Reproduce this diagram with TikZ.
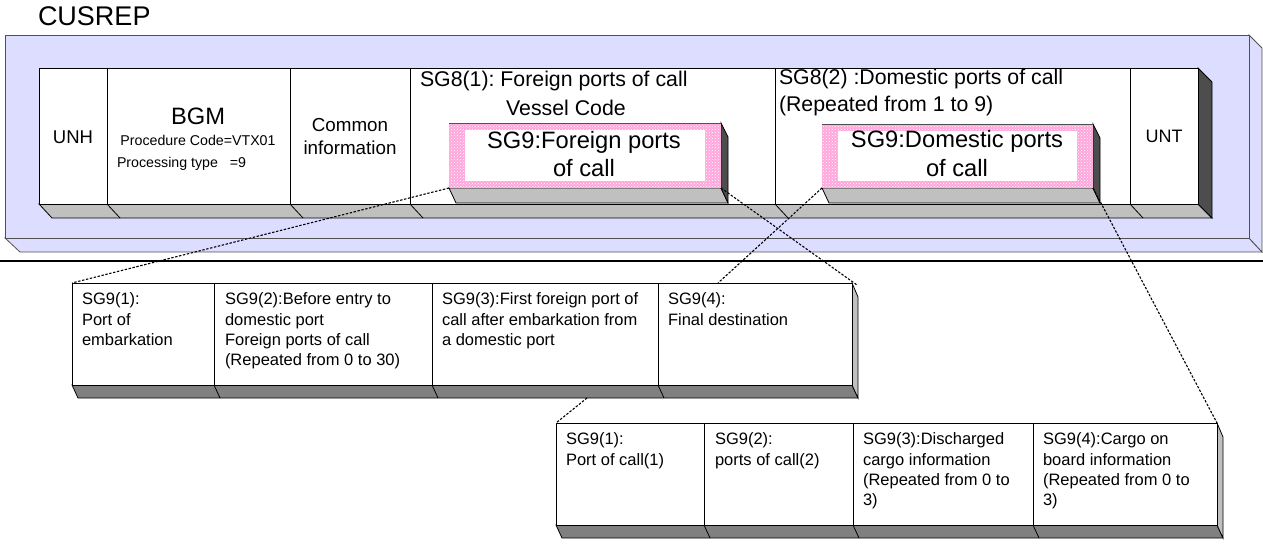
\documentclass[tikz,border=0pt]{standalone}
\usepackage{fontspec}
\setmainfont{Liberation Sans}
\usetikzlibrary{patterns}
\definecolor{lav}{HTML}{DDDDFF}
\definecolor{outl}{HTML}{505050}
\definecolor{lg}{HTML}{C0C0C0}
\definecolor{dg}{HTML}{4D4D4D}
\definecolor{mg}{HTML}{808080}
\definecolor{pinkc}{HTML}{FFA6DC}
\newcommand{\fsz}[2]{\fontsize{#1}{#2}\selectfont}
\frenchspacing
\begin{document}
\begin{tikzpicture}[x=1pt,y=-1pt,
  cell/.style={draw=black, fill=white, line width=0.8pt, inner sep=0pt, outer sep=0pt, anchor=north west},
  face/.style={draw=black, line width=0.8pt},
  lavface/.style={draw=outl, fill=lav, line width=0.8pt},
  pinkbox/.style={draw=none, inner sep=0pt, outer sep=0pt, anchor=north west,
    preaction={fill=pinkc}, pattern=crosshatch dots, pattern color=white},
  conn/.style={draw=black, line width=1.1pt, dash pattern=on 2.4pt off 1.6pt},
  lbl/.style={inner sep=0pt, outer sep=0pt},
  small/.style={lbl, font=\fsz{16.5}{20.3}, align=left, anchor=north west}
]
\useasboundingbox (0,0) rectangle (1263,545);

% title
\node[lbl, anchor=base west, font=\fsz{27}{32}] (title) at (38,26) {CUSREP};

% outer message box
\draw[lavface] (5,238) -- (20,252) -- (1262,252) -- (1249,238) -- cycle;
\draw[lavface] (1249,35) -- (1262,48) -- (1262,252) -- (1249,238) -- cycle;
\node[draw=outl, fill=lav, line width=0.8pt, inner sep=0pt, outer sep=0pt, anchor=north west,
      minimum width=1244pt, minimum height=203pt] (msg) at (5,35) {};

% top row faces
\draw[face, fill=lg] (39,204) -- (52,218) -- (1212,218) -- (1198,204) -- cycle;
\draw[face, fill=dg] (1198,68) -- (1212,82) -- (1212,218) -- (1198,204) -- cycle;
\foreach \x in {107,290,410,775,1130} \draw[face] (\x,204) -- ++(13,14);

% top row cells
\node[cell, minimum width=68pt,  minimum height=136pt] (unh)  at (39,68)   {};
\node[cell, minimum width=183pt, minimum height=136pt] (bgm)  at (107,68)  {};
\node[cell, minimum width=120pt, minimum height=136pt] (com)  at (290,68)  {};
\node[cell, minimum width=365pt, minimum height=136pt] (sga)  at (410,68)  {};
\node[cell, minimum width=355pt, minimum height=136pt] (sgb)  at (775,68)  {};
\node[cell, minimum width=68pt,  minimum height=136pt] (unt)  at (1130,68) {};

% top row texts
\node[lbl, anchor=base, font=\fsz{18.5}{22}] (tunh) at (73,144) {UNH};
\node[lbl, anchor=base, font=\fsz{23.7}{28}] (tbgm) at (198,125) {BGM};
\node[lbl, anchor=base, font=\fsz{14.2}{17}] (tproc) at (198,146) {Procedure Code=VTX01};
\node[lbl, anchor=base west, font=\fsz{14.2}{17}] (tptype) at (117,168) {Processing type~~~=9};
\node[lbl, anchor=center, align=center, font=\fsz{18.8}{23}] (tcom) at (350,136.5) {Common\\information};
\node[lbl, anchor=base west, font=\fsz{21.3}{26}] (tsga) at (420,87) {SG8(1): Foreign ports of call};
\node[lbl, anchor=base, font=\fsz{21.3}{26}] (tves) at (566,116) {Vessel Code};
\node[lbl, anchor=base west, font=\fsz{21.3}{26}] (tsgb) at (779,85) {SG8(2) :Domestic ports of call};
\node[lbl, anchor=base west, font=\fsz{21.3}{26}] (tsgbr) at (779,112) {(Repeated from 1 to 9)};
\node[lbl, anchor=base, font=\fsz{18}{22}] (tunt) at (1164,143) {UNT};

% SG9 foreign box
\draw[face, fill=lg] (449,188) -- (456,203) -- (728,203) -- (721,188) -- cycle;
\draw[face, fill=dg] (721,123) -- (728,137) -- (728,203) -- (721,188) -- cycle;
\node[pinkbox, minimum width=272pt, minimum height=65pt] (sgf) at (449,123) {};
\fill[white] (465,130) rectangle (705,181);
\draw[outl, line width=0.6pt] (449,123) -- (721,123);
\node[lbl, anchor=base, font=\fsz{23.7}{28}] (tsgf1) at (584,149) {SG9:Foreign ports};
\node[lbl, anchor=base, font=\fsz{23.7}{28}] (tsgf2) at (584,177) {of call};

% SG9 domestic box
\draw[face, fill=lg] (822,188) -- (829,203) -- (1100,203) -- (1093,188) -- cycle;
\draw[face, fill=dg] (1093,124) -- (1100,138) -- (1100,203) -- (1093,188) -- cycle;
\node[pinkbox, minimum width=271pt, minimum height=64pt] (sgd) at (822,124) {};
\fill[white] (838,131) rectangle (1077,181);
\draw[outl, line width=0.6pt] (822,124) -- (1093,124);
\node[lbl, anchor=base, font=\fsz{23.7}{28}] (tsgd1) at (957,148) {SG9:Domestic ports};
\node[lbl, anchor=base, font=\fsz{23.7}{28}] (tsgd2) at (957,177) {of call};

% separator line
\draw[line width=2pt] (0,261) -- (1263,261);

% lower row 1
\draw[face, fill=mg] (72,385) -- (78,398) -- (858,398) -- (852,385) -- cycle;
\draw[face, fill=lg] (852,283) -- (858,297) -- (858,398) -- (852,385) -- cycle;
\foreach \x in {214,432,658} \draw[face] (\x,385) -- ++(6,13);
\node[cell, minimum width=142pt, minimum height=102pt] (ra) at (72,283)  {};
\node[cell, minimum width=218pt, minimum height=102pt] (rb) at (214,283) {};
\node[cell, minimum width=226pt, minimum height=102pt] (rc) at (432,283) {};
\node[cell, minimum width=194pt, minimum height=102pt] (rd) at (658,283) {};
\node[small] (tra) at (82,293)  {SG9(1):\\Port of\\embarkation};
\node[small] (trb) at (225,293) {SG9(2):Before entry to\\domestic port\\Foreign ports of call\\(Repeated from 0 to 30)};
\node[small] (trc) at (442,293) {SG9(3):First foreign port of\\call after embarkation from\\a domestic port};
\node[small] (trd) at (668,293) {SG9(4):\\Final destination};

% lower row 2
\draw[face, fill=mg] (556,525) -- (562,538) -- (1223,538) -- (1217,525) -- cycle;
\draw[face, fill=lg] (1217,423) -- (1223,437) -- (1223,538) -- (1217,525) -- cycle;
\foreach \x in {704,853,1033} \draw[face] (\x,525) -- ++(6,13);
\node[cell, minimum width=148pt, minimum height=102pt] (sa) at (556,423)  {};
\node[cell, minimum width=149pt, minimum height=102pt] (sb) at (704,423)  {};
\node[cell, minimum width=180pt, minimum height=102pt] (sc) at (853,423)  {};
\node[cell, minimum width=184pt, minimum height=102pt] (sd) at (1033,423) {};
\node[small] (tsa) at (566,433)  {SG9(1):\\Port of call(1)};
\node[small] (tsb) at (715,433)  {SG9(2):\\ports of call(2)};
\node[small] (tsc) at (863,433)  {SG9(3):Discharged\\cargo information\\(Repeated from 0 to\\3)};
\node[small] (tsd) at (1043,433) {SG9(4):Cargo on\\board information\\(Repeated from 0 to\\3)};

% connectors
\coordinate (rtop) at (857,285);
\coordinate (rdmid) at (718,283);
\coordinate (rbot) at (587,398);
\draw[conn] (sgf.south west) -- (ra.north west);
\draw[conn] (sgf.south east) -- (rtop);
\draw[conn] (sgd.south west) -- (rdmid);
\draw[conn] (sgd.south east) -- (sd.north east);
\draw[conn] (rbot) -- (sa.north west);
\end{tikzpicture}
\end{document}
